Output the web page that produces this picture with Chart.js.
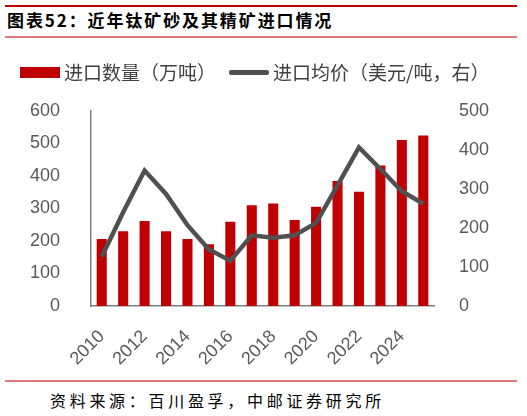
<!DOCTYPE html>
<html><head><meta charset="utf-8">
<script src="https://cdn.jsdelivr.net/npm/chart.js@4"></script>
<style>
html,body{margin:0;padding:0;background:#fff;width:527px;height:416px;overflow:hidden;position:relative;font-family:"Noto Sans CJK SC","Liberation Sans",sans-serif;}
.ln{position:absolute;left:5px;width:512px;}
#title{position:absolute;left:7px;top:8px;font-size:17px;font-weight:bold;letter-spacing:1.9px;color:#000;line-height:24px;white-space:nowrap;}
#legend{position:absolute;left:20px;top:60px;height:24px;font-size:19px;color:#404040;white-space:nowrap;}
#legend span{position:absolute;top:0;line-height:24px;}
#src{position:absolute;left:50px;top:389px;font-size:16px;letter-spacing:3.7px;color:#000;line-height:22px;white-space:nowrap;}
#wrap{position:absolute;left:0;top:77px;width:527px;height:303px;}
</style></head>
<body>
<div class="ln" style="top:5px;height:2px;background:#c00000"></div>
<div id="title">图表52：近年钛矿砂及其精矿进口情况</div>
<div class="ln" style="top:36px;height:1.5px;background:#e07a7a"></div>
<div id="wrap"><canvas id="c" width="527" height="303"></canvas></div>
<div id="legend">
  <div style="position:absolute;left:0;top:7px;width:40px;height:10.5px;background:#c00000"></div>
  <span style="left:44px">进口数量（万吨）</span>
  <div style="position:absolute;left:209px;top:10px;width:40px;height:4.5px;background:#505050;border-radius:2px"></div>
  <span style="left:253px">进口均价（美元/吨，右）</span>
</div>
<div class="ln" style="top:380px;height:1.5px;background:#e07a7a"></div>
<div id="src">资料来源：百川盈孚，中邮证券研究所</div>
<script>
const years = ['2010','2011','2012','2013','2014','2015','2016','2017','2018','2019','2020','2021','2022','2023','2024','2025'];
const importQty = [206, 230, 261, 230, 206, 190, 259, 310, 315, 264, 305, 384, 351, 432, 510, 524];
const importPrice = [126, 240, 347, 287, 207, 145, 116, 181, 175, 181, 213, 309, 406, 351, 294, 262];
const leftTicks = [0,100,200,300,400,500,600];
const rightTicks = [0,100,200,300,400,500];

const tickFont = {family:'"Liberation Sans", Arial, sans-serif', size:18};
const tickColor = '#595959';

new Chart(document.getElementById('c'), {
  data: {
    labels: years,
    datasets: [
      {type:'line', label:'进口均价（美元/吨，右）', data: importPrice, yAxisID:'y1', borderColor:'#505050', backgroundColor:'#505050', borderWidth:4.5, pointRadius:0, tension:0, order:0, borderJoinStyle:'miter'},
      {type:'bar', label:'进口数量（万吨）', data: importQty, yAxisID:'y', backgroundColor:'#c00000', categoryPercentage:1, barPercentage:0.47, order:1}
    ]
  },
  options: {
    responsive:false, animation:false,
    layout:{padding:{top:0,left:0,right:0,bottom:0}},
    plugins:{legend:{display:false}, tooltip:{enabled:false}},
    scales:{
      x:{
        offset:true,
        grid:{display:false},
        border:{display:true,color:'#7f7f7f',width:1.5},
        ticks:{autoSkip:false,maxRotation:45,minRotation:45,padding:12,font:tickFont,color:tickColor,
          callback:function(v,i){return i%2===0 ? years[i] : '';}},
        afterFit:function(s){s.height=74;}
      },
      y:{
        position:'left', min:0, max:600,
        grid:{display:false},
        border:{display:true,color:'#7f7f7f',width:1.5},
        ticks:{stepSize:100,padding:23,font:tickFont,color:tickColor},
        afterBuildTicks:function(s){s.ticks=leftTicks.map(v=>({value:v}));},
        afterFit:function(s){s.width=91;}
      },
      y1:{
        position:'right', min:0, max:500,
        grid:{display:false},
        border:{display:false},
        ticks:{stepSize:100,padding:17,font:tickFont,color:tickColor},
        afterBuildTicks:function(s){s.ticks=rightTicks.map(v=>({value:v}));},
        afterFit:function(s){s.width=93;}
      }
    }
  }
});
</script>
</body></html>
